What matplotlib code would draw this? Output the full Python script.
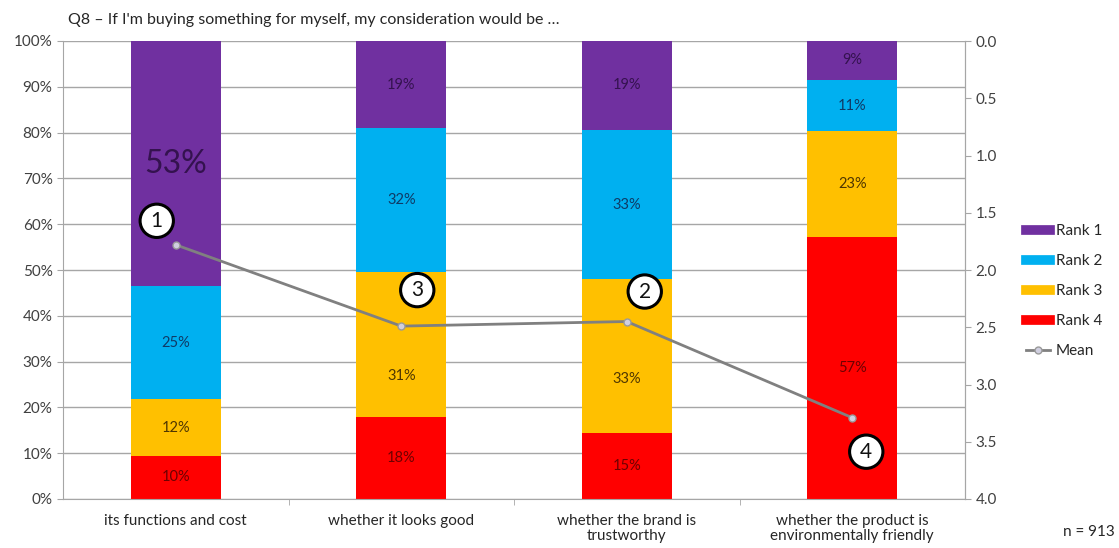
import matplotlib
matplotlib.use("Agg")
import matplotlib.pyplot as plt
import numpy as np
from matplotlib.lines import Line2D

plt.rcParams['font.family'] = ['Lato', 'DejaVu Sans']

title = "Q8 \u2013 If I'm buying something for myself, my consideration would be \u2026"
categories = ["its functions and cost", "whether it looks good",
              "whether the brand is\ntrustworthy",
              "whether the product is\nenvironmentally friendly"]
series_names = ["Rank 1", "Rank 2", "Rank 3", "Rank 4"]
rank1 = [53.5, 19.0, 19.4, 8.5]
rank2 = [24.7, 31.4, 32.6, 11.2]
rank3 = [12.4, 31.7, 33.6, 23.1]
rank4 = [9.4, 17.9, 14.4, 57.2]
labels1 = ["53%", "19%", "19%", "9%"]
labels2 = ["25%", "32%", "33%", "11%"]
labels3 = ["12%", "31%", "33%", "23%"]
labels4 = ["10%", "18%", "15%", "57%"]
mean_values = [1.78, 2.49, 2.45, 3.29]
n_text = "n = 913"

colors = ["#7030A0", "#00B0F0", "#FFC000", "#FF0000"]
text_colors = ["#34124f", "#0f3a66", "#4f3600", "#6e0000"]
label_sizes = [[23, 10.5, 10.5, 10.5], [10.5]*4, [10.5]*4, [10.5]*4]
# vertical pixel offsets for labels (series x category)
label_offsets = [[0, 0, 0, 0], [0, 0, 0, 0], [0, -32, -23, 0], [0, 0, 0, 0]]
# offsets for rank circles from mean points (pixels)
circle_offsets = [(-19, 24), (16, 36), (18, 30), (14, -34)]

FS = 11
fig = plt.figure(figsize=(11.19, 5.48), dpi=100)
ax = fig.add_axes([63/1119, 1-499/548, (965-63)/1119, (499-41)/548])
x = np.arange(len(categories))
grid_c = "#a6a6a6"
ax.set_xlim(-0.5, len(categories)-0.5)
ax.set_ylim(0, 100)
ax.set_yticks(np.arange(0, 101, 10))
ax.set_yticklabels([f"{v}%" for v in range(0, 101, 10)])
ax.yaxis.grid(True, color=grid_c, lw=1.0)
ax.set_axisbelow(True)

series = [rank4, rank3, rank2, rank1]
labs = [labels4, labels3, labels2, labels1]
cols = [colors[3], colors[2], colors[1], colors[0]]
tcols = [text_colors[3], text_colors[2], text_colors[1], text_colors[0]]
sizes = [label_sizes[3], label_sizes[2], label_sizes[1], label_sizes[0]]
offs = [label_offsets[3], label_offsets[2], label_offsets[1], label_offsets[0]]
bottom = np.zeros(len(categories))
for s, lab, c, tc, sz, of in zip(series, labs, cols, tcols, sizes, offs):
    vals = np.array(s)
    ax.bar(x, vals, 0.4, bottom=bottom, color=c, zorder=2)
    for i in range(len(x)):
        ax.annotate(lab[i], (x[i], bottom[i] + vals[i]/2), xytext=(0, of[i]),
                    textcoords="offset pixels", ha="center", va="center",
                    fontsize=sz[i], color=tc, zorder=5)
    bottom += vals

ax.spines["top"].set_visible(False)
for sp in ["left", "bottom", "right"]:
    ax.spines[sp].set_color(grid_c)
ax.tick_params(axis="y", colors=grid_c, labelcolor="#404040", labelsize=FS, length=4)
ax.set_xticks(x)
ax.set_xticklabels(categories, fontsize=FS, color="#262626", linespacing=1.1)
ax.tick_params(axis="x", length=0, pad=11)
ax.set_xticks(np.arange(0.5, len(categories)-0.5, 1), minor=True)
ax.tick_params(axis="x", which="minor", length=4, colors=grid_c)

ax2 = ax.twinx()
ax2.set_ylim(4, 0)
ax2.set_yticks(np.arange(0, 4.01, 0.5))
ax2.set_yticklabels([f"{v:.1f}" for v in np.arange(0, 4.01, 0.5)])
ax2.tick_params(axis="y", colors=grid_c, labelcolor="#404040", labelsize=FS, length=4)
for sp in ["top", "left", "bottom"]:
    ax2.spines[sp].set_visible(False)
ax2.spines["right"].set_color(grid_c)
ax2.plot(x, mean_values, color="#808080", lw=2, marker="o", ms=5,
         markerfacecolor="#d0cfe0", markeredgecolor="#9a9a9a", zorder=4)

ranks = np.argsort(np.argsort(mean_values)) + 1
for i in range(len(x)):
    ax2.annotate(str(ranks[i]), (x[i], mean_values[i]), xytext=circle_offsets[i],
                 textcoords="offset pixels", ha="center", va="center",
                 fontsize=15, color="#111111",
                 bbox=dict(boxstyle="circle,pad=0.32", fc="white", ec="black", lw=2.2))

ax.set_zorder(1); ax.patch.set_visible(False)
ax2.set_zorder(2)

fig.text(68/1119, 1-20/548, title, fontsize=11.5, color="#262626", va="center")
fig.text(1089/1119, 1-532/548, n_text, fontsize=FS, color="#262626", va="center", ha="center")

handles = [Line2D([], [], color=c, lw=7) for c in colors]
handles.append(Line2D([], [], color="#808080", lw=2, marker="o", ms=5,
                      markerfacecolor="#d0cfe0", markeredgecolor="#9a9a9a"))
fig.legend(handles, series_names + ["Mean"], loc="center left",
           bbox_to_anchor=(1012/1119, 1-291/548), frameon=False, fontsize=FS,
           handlelength=1.6, handletextpad=0.35, labelspacing=1.05, labelcolor="#262626")

fig.savefig("out.png", dpi=100)
